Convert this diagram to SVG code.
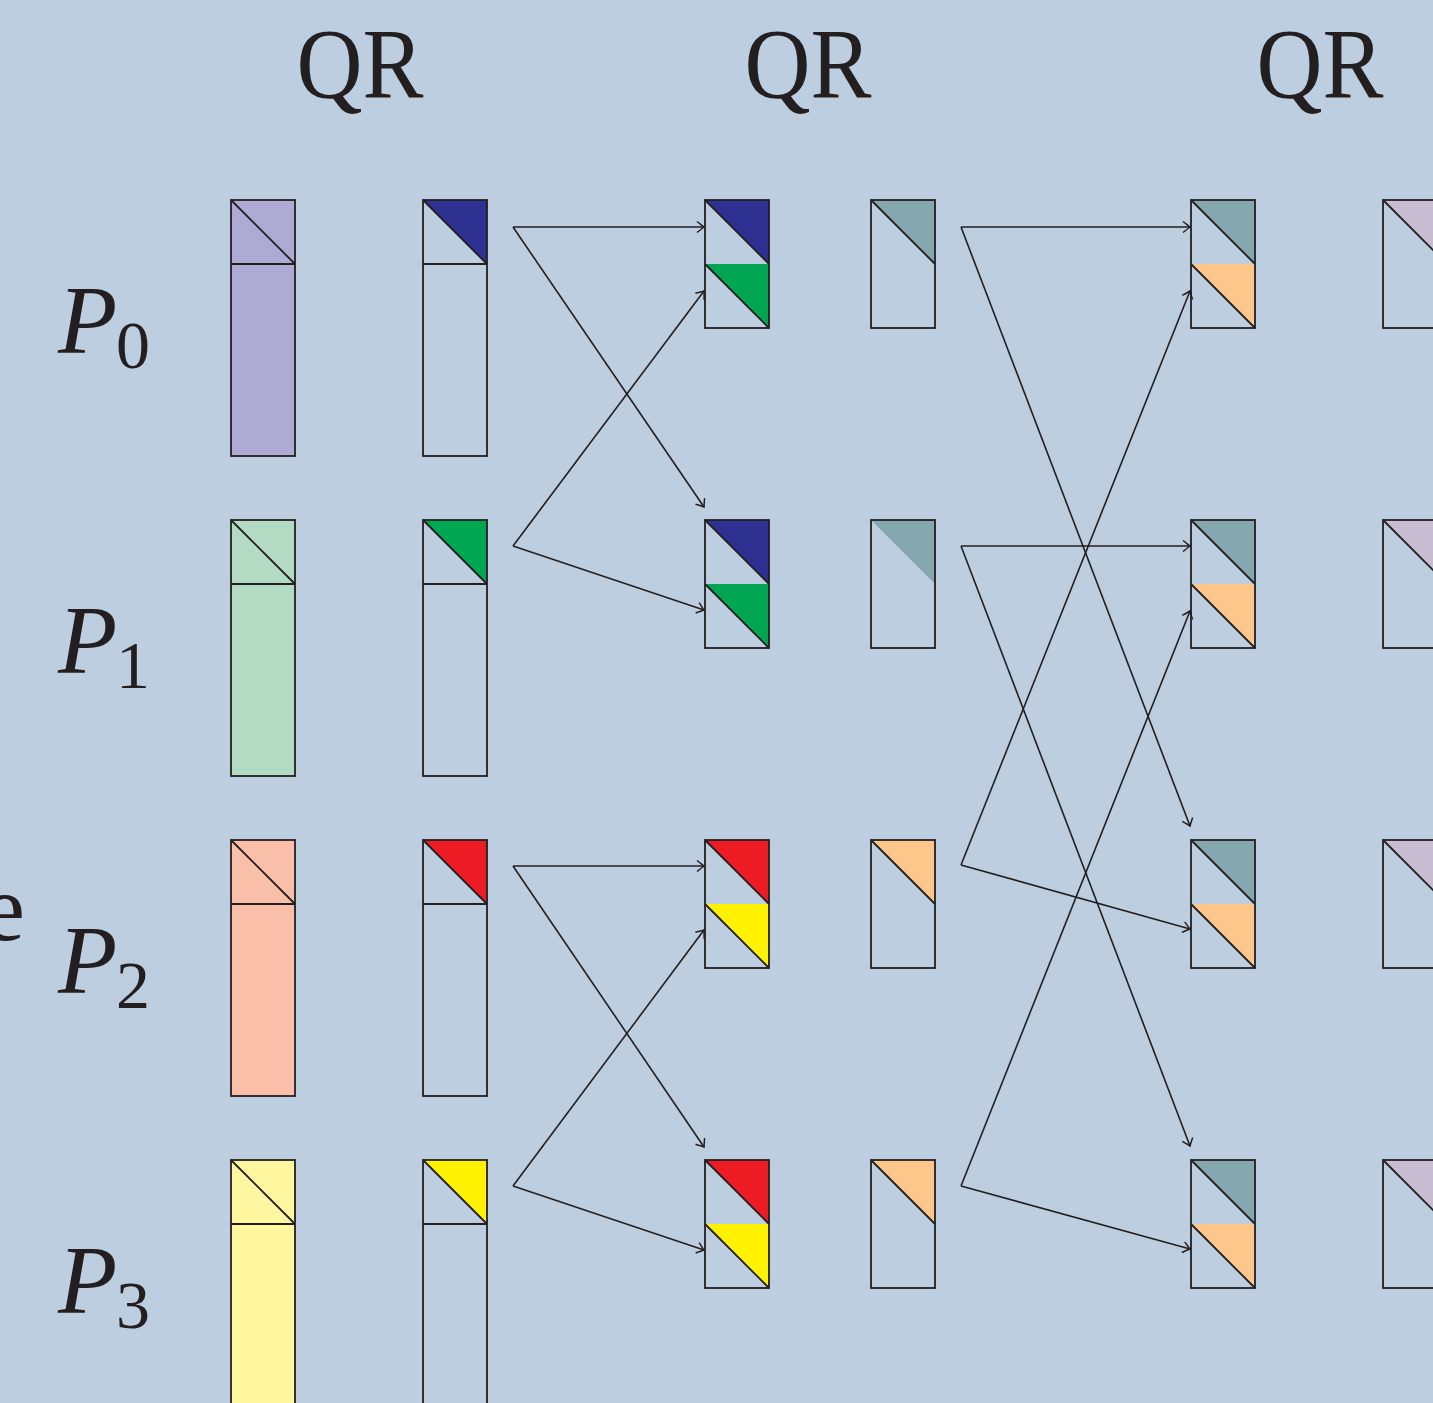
<svg xmlns="http://www.w3.org/2000/svg" width="1433" height="1403" viewBox="0 0 1433 1403">
  <style>
    .ln { fill: none; stroke: #231F20; stroke-width: 1.8; }
    .edge { fill: none; stroke: #231F20; stroke-width: 1.6; marker-end: url(#tip); }
    .serif { font-family: "Liberation Serif", "Times New Roman", serif; fill: #231F20; }
    .qr { font-size: 100px; }
    .pl { font-size: 97px; font-style: italic; }
    .sub { font-size: 68px; }
  </style>
  <defs>
    <marker id="tip" markerUnits="userSpaceOnUse" markerWidth="14" markerHeight="14" viewBox="-10 -7 12 14" refX="0" refY="0" orient="auto">
      <path d="M -7,-5.5 Q -2,-1.5 0,0 Q -2,1.5 -7,5.5" fill="none" stroke="#231F20" stroke-width="1.5"/>
    </marker>
    <!-- tall panel: 64 x 256 with a split square on top -->
    <g id="panelTall">
      <rect x="0" y="0" width="64" height="256" class="ln"/>
      <line x1="0" y1="0" x2="64" y2="64" class="ln"/>
      <line x1="0" y1="64" x2="64" y2="64" class="ln"/>
    </g>
    <!-- stacked pair of triangles: 64 x 128 -->
    <g id="pairOutline">
      <rect x="0" y="0" width="64" height="128" class="ln"/>
      <line x1="0" y1="0" x2="64" y2="64" class="ln"/>
      <line x1="0" y1="64" x2="64" y2="128" class="ln"/>
    </g>
  </defs>

  <rect x="0" y="0" width="1433" height="1403" fill="#BDCEE0"/>

  <!-- headings -->
  <g id="headings" class="serif qr">
    <text x="360" y="97" text-anchor="middle" textLength="127" lengthAdjust="spacingAndGlyphs">QR</text>
    <text x="808" y="97" text-anchor="middle" textLength="127" lengthAdjust="spacingAndGlyphs">QR</text>
    <text x="1320" y="97" text-anchor="middle" textLength="127" lengthAdjust="spacingAndGlyphs">QR</text>
  </g>

  <!-- process labels -->
  <g id="labels" class="serif">
    <text x="25" y="940" text-anchor="end" font-size="95">e</text>
    <text x="58" y="353" class="pl">P</text><text x="116" y="368" class="sub">0</text>
    <text x="58" y="673" class="pl">P</text><text x="116" y="688" class="sub">1</text>
    <text x="58" y="993" class="pl">P</text><text x="116" y="1008" class="sub">2</text>
    <text x="58" y="1313" class="pl">P</text><text x="116" y="1328" class="sub">3</text>
  </g>

  <!-- local data panels -->
  <g id="data-p0" transform="translate(231,200)">
    <rect width="64" height="256" fill="#AEAAD4"/><use href="#panelTall"/>
  </g>
  <g id="data-p1" transform="translate(231,520)">
    <rect width="64" height="256" fill="#B3DBC3"/><use href="#panelTall"/>
  </g>
  <g id="data-p2" transform="translate(231,840)">
    <rect width="64" height="256" fill="#FABFA8"/><use href="#panelTall"/>
  </g>
  <g id="data-p3" transform="translate(231,1160)">
    <rect width="64" height="256" fill="#FFF6A0"/><use href="#panelTall"/>
  </g>

  <!-- local R factors -->
  <g id="r-p0" transform="translate(423,200)">
    <polygon points="0,0 64,0 64,64" fill="#2E3192"/><use href="#panelTall"/>
  </g>
  <g id="r-p1" transform="translate(423,520)">
    <polygon points="0,0 64,0 64,64" fill="#00A651"/><use href="#panelTall"/>
  </g>
  <g id="r-p2" transform="translate(423,840)">
    <polygon points="0,0 64,0 64,64" fill="#ED1C24"/><use href="#panelTall"/>
  </g>
  <g id="r-p3" transform="translate(423,1160)">
    <polygon points="0,0 64,0 64,64" fill="#FFF200"/><use href="#panelTall"/>
  </g>

  <!-- stacked pairs, level 1 -->
  <g id="stack1-p0" transform="translate(705,200)">
    <polygon points="0,0 64,0 64,64" fill="#2E3192"/>
    <polygon points="0,64 64,64 64,128" fill="#00A651"/>
    <use href="#pairOutline"/>
  </g>
  <g id="stack1-p1" transform="translate(705,520)">
    <polygon points="0,0 64,0 64,64" fill="#2E3192"/>
    <polygon points="0,64 64,64 64,128" fill="#00A651"/>
    <use href="#pairOutline"/>
  </g>
  <g id="stack1-p2" transform="translate(705,840)">
    <polygon points="0,0 64,0 64,64" fill="#ED1C24"/>
    <polygon points="0,64 64,64 64,128" fill="#FFF200"/>
    <use href="#pairOutline"/>
  </g>
  <g id="stack1-p3" transform="translate(705,1160)">
    <polygon points="0,0 64,0 64,64" fill="#ED1C24"/>
    <polygon points="0,64 64,64 64,128" fill="#FFF200"/>
    <use href="#pairOutline"/>
  </g>

  <!-- R factors, level 1 -->
  <g id="r1-p0" transform="translate(871,200)">
    <polygon points="0,0 64,0 64,64" fill="#85A7B0"/>
    <rect width="64" height="128" class="ln"/>
    <line x1="0" y1="0" x2="64" y2="64" class="ln"/>
  </g>
  <g id="r1-p1" transform="translate(871,520)">
    <polygon points="0,0 64,0 64,64" fill="#85A7B0"/>
    <rect width="64" height="128" class="ln"/>
  </g>
  <g id="r1-p2" transform="translate(871,840)">
    <polygon points="0,0 64,0 64,64" fill="#FDC68A"/>
    <rect width="64" height="128" class="ln"/>
    <line x1="0" y1="0" x2="64" y2="64" class="ln"/>
  </g>
  <g id="r1-p3" transform="translate(871,1160)">
    <polygon points="0,0 64,0 64,64" fill="#FDC68A"/>
    <rect width="64" height="128" class="ln"/>
    <line x1="0" y1="0" x2="64" y2="64" class="ln"/>
  </g>

  <!-- stacked pairs, level 2 -->
  <g id="stack2-p0" transform="translate(1191,200)">
    <polygon points="0,0 64,0 64,64" fill="#85A7B0"/>
    <polygon points="0,64 64,64 64,128" fill="#FDC68A"/>
    <use href="#pairOutline"/>
  </g>
  <g id="stack2-p1" transform="translate(1191,520)">
    <polygon points="0,0 64,0 64,64" fill="#85A7B0"/>
    <polygon points="0,64 64,64 64,128" fill="#FDC68A"/>
    <use href="#pairOutline"/>
  </g>
  <g id="stack2-p2" transform="translate(1191,840)">
    <polygon points="0,0 64,0 64,64" fill="#85A7B0"/>
    <polygon points="0,64 64,64 64,128" fill="#FDC68A"/>
    <use href="#pairOutline"/>
  </g>
  <g id="stack2-p3" transform="translate(1191,1160)">
    <polygon points="0,0 64,0 64,64" fill="#85A7B0"/>
    <polygon points="0,64 64,64 64,128" fill="#FDC68A"/>
    <use href="#pairOutline"/>
  </g>

  <!-- R factors, level 2 -->
  <g id="r2-p0" transform="translate(1383,200)">
    <polygon points="0,0 64,0 64,64" fill="#C8BCD3"/>
    <rect width="64" height="128" class="ln"/>
    <line x1="0" y1="0" x2="64" y2="64" class="ln"/>
  </g>
  <g id="r2-p1" transform="translate(1383,520)">
    <polygon points="0,0 64,0 64,64" fill="#C8BCD3"/>
    <rect width="64" height="128" class="ln"/>
    <line x1="0" y1="0" x2="64" y2="64" class="ln"/>
  </g>
  <g id="r2-p2" transform="translate(1383,840)">
    <polygon points="0,0 64,0 64,64" fill="#C8BCD3"/>
    <rect width="64" height="128" class="ln"/>
    <line x1="0" y1="0" x2="64" y2="64" class="ln"/>
  </g>
  <g id="r2-p3" transform="translate(1383,1160)">
    <polygon points="0,0 64,0 64,64" fill="#C8BCD3"/>
    <rect width="64" height="128" class="ln"/>
    <line x1="0" y1="0" x2="64" y2="64" class="ln"/>
  </g>

  <!-- connectors -->
  <g id="connectors">
    <polyline class="edge" points="513,227 704,227"/>
    <polyline class="edge" points="513,227 704,507"/>
    <polyline class="edge" points="513,546 704,291"/>
    <polyline class="edge" points="513,546 704,610"/>
    <polyline class="edge" points="513,866 704,866"/>
    <polyline class="edge" points="513,866 704,1147"/>
    <polyline class="edge" points="513,1186 704,930"/>
    <polyline class="edge" points="513,1186 704,1250"/>

    <polyline class="edge" points="961,227 1190,227"/>
    <polyline class="edge" points="961,227 1190,826"/>
    <polyline class="edge" points="961,546 1190,546"/>
    <polyline class="edge" points="961,546 1190,1146"/>
    <polyline class="edge" points="961,865 1190,291"/>
    <polyline class="edge" points="961,865 1190,929"/>
    <polyline class="edge" points="961,1186 1190,611"/>
    <polyline class="edge" points="961,1186 1190,1249"/>
  </g>
</svg>
